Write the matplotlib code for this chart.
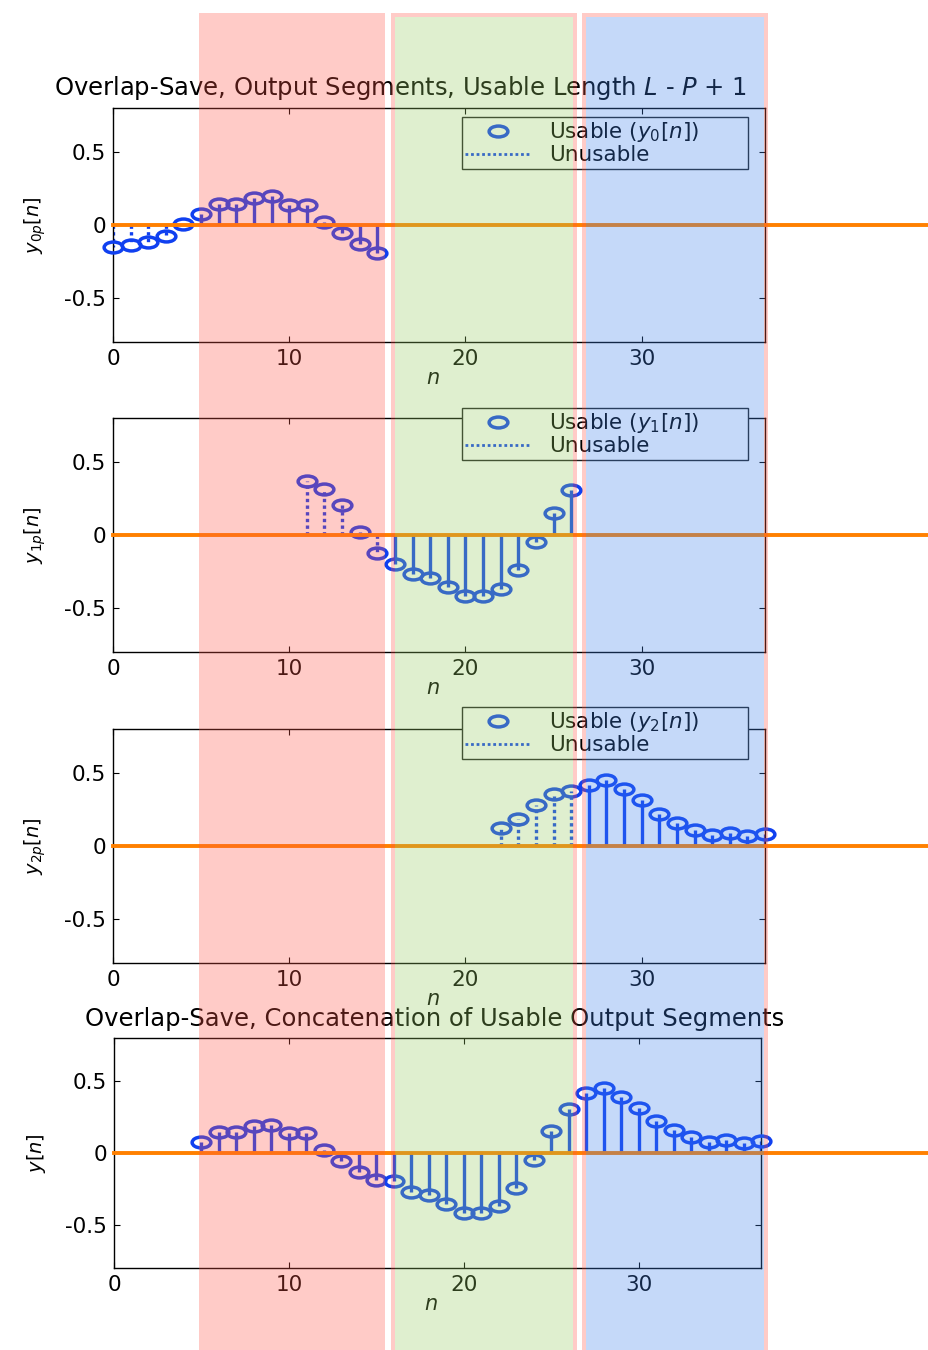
import numpy as np
import matplotlib
matplotlib.use("Agg")
import matplotlib.pyplot as plt
from matplotlib.path import Path
from matplotlib.patches import Rectangle
from matplotlib.lines import Line2D
from matplotlib.transforms import Affine2D

# --- data ------------------------------------------------------------------
n_out = np.arange(5, 38)
y_out = [0.075, 0.145, 0.146, 0.186, 0.197, 0.138, 0.136, 0.018, -0.053, -0.133,
         -0.190, -0.196, -0.270, -0.295, -0.356, -0.418, -0.418, -0.366, -0.240,
         -0.047, 0.150, 0.307, 0.418, 0.450, 0.392, 0.315, 0.221, 0.160, 0.108,
         0.076, 0.088, 0.069, 0.083]

n_bad = [np.arange(0, 5), np.arange(11, 16), np.arange(22, 27)]
y_bad0 = [-0.152, -0.136, -0.118, -0.073, 0.007]
y_bad1 = [0.368, 0.312, 0.205, 0.023, -0.120]
y_bad2 = [0.122, 0.186, 0.281, 0.356, 0.373]
y_bad = [y_bad0, y_bad1, y_bad2]

# usable part of each segment (index ranges into n_out)
seg_slices = [slice(0, 11), slice(11, 22), slice(22, 33)]

xticks = [0, 10, 20, 30]
yticks = [-0.5, 0, 0.5]

W, H = 929, 1350
BLUE = '#1040f0'
ORANGE = '#ff8000'

# ellipse shaped marker (the original is stretched horizontally)
ellipse = Path.unit_circle().transformed(Affine2D().scale(1.0, 0.58))


def px_rect(l, t, r, b):
    return [l / W, 1 - b / H, (r - l) / W, (b - t) / H]


def style_axes(ax):
    ax.set_xlim(0, 37)
    ax.set_ylim(-0.8, 0.8)
    ax.set_xticks(xticks)
    ax.set_yticks(yticks)
    ax.set_xticklabels([str(t) for t in xticks])
    ax.set_yticklabels(['-0.5', '0', '0.5'])
    ax.tick_params(direction='in', length=4, width=0.8, top=True, right=True,
                   labelsize=15.5, pad=5)
    for s in ax.spines.values():
        s.set_linewidth(1.0)
    ax.set_xlabel('$n$', fontsize=15)
    ax.xaxis.set_label_coords(0.49, -0.155)
    ax.xaxis.label.set_va('center')
    ax.axhline(0, xmin=0, xmax=1.3, color=ORANGE, lw=2.8, zorder=4, clip_on=False)


def draw_stems(ax, n, y, ls):
    ax.vlines(n, 0, y, colors=BLUE, linestyles=ls, lw=2.4, zorder=2)
    ax.plot(n, y, ls='none', marker=ellipse, ms=13.5, mfc='none', mec=BLUE,
            mew=2.5, zorder=3, clip_on=False)


fig = plt.figure(figsize=(W / 100, H / 100), dpi=100)

panels = [px_rect(113, 108, 765, 342), px_rect(113, 418, 765, 652),
          px_rect(113, 729, 765, 963), px_rect(114, 1038, 761, 1268)]
legend_tops = [117, 408, 707]

for k in range(3):
    ax = fig.add_axes(panels[k])
    style_axes(ax)
    sl = seg_slices[k]
    draw_stems(ax, n_bad[k], y_bad[k], (0, (1, 1)))
    draw_stems(ax, n_out[sl], y_out[sl], '-')
    ax.set_ylabel('$y_{%dp}[n]$' % k, fontsize=14)
    ax.yaxis.set_label_coords(-0.12, 0.5)
    ax.yaxis.label.set_va('center')

    handles = [Line2D([], [], ls='none', marker=ellipse, ms=13.5, mfc='none',
                      mec=BLUE, mew=2.5),
               Line2D([], [], ls=(0, (1, 1)), color=BLUE, lw=2.0)]
    labels = ['Usable ($y_%d[n]$)' % k, 'Unusable']
    ax.legend(handles, labels, loc='upper left', mode='expand',
              bbox_to_anchor=(462 / W, 1 - legend_tops[k] / H, 286 / W, 0),
              bbox_transform=fig.transFigure, borderaxespad=0, fontsize=15.5,
              fancybox=False, framealpha=1, edgecolor='#202020',
              borderpad=0.15, labelspacing=0.05, handlelength=3.0,
              handletextpad=0.9)
    ax.get_legend().get_frame().set_linewidth(1.0)

ax = fig.add_axes(panels[3])
style_axes(ax)
draw_stems(ax, n_out, y_out, '-')
ax.set_ylabel('$y[n]$', fontsize=14)
ax.yaxis.set_label_coords(-0.12, 0.5)
ax.yaxis.label.set_va('center')

fig.text(401 / W, 1 - 88 / H,
         'Overlap-Save, Output Segments, Usable Length $L$ - $P$ + 1',
         ha='center', va='center', fontsize=17.5)
fig.text(435 / W, 1 - 1019 / H,
         'Overlap-Save, Concatenation of Usable Output Segments',
         ha='center', va='center', fontsize=17.5)

# translucent block overlays drawn on top of everything
alpha = 0.3
red = (1.0, 0.333, 0.28)
green = (0.593, 0.8, 0.387)
blue = (0.253, 0.517, 0.933)
top = 13
fig.add_artist(Rectangle((199 / W, 0), (385 - 199) / W, 1 - top / H,
                         transform=fig.transFigure, facecolor=red, alpha=alpha,
                         lw=0, zorder=10))
for (l, r), col in [((391, 577), green), ((582, 768), blue)]:
    # pink frame
    fig.add_artist(Rectangle(((l + 2) / W, -0.01), (r - l - 4) / W,
                             1 - (top + 2) / H + 0.01, transform=fig.transFigure,
                             facecolor='none', edgecolor=red, alpha=alpha,
                             lw=4 * 0.72, zorder=10))
    fig.add_artist(Rectangle(((l + 4) / W, 0), (r - l - 8) / W,
                             1 - (top + 4) / H, transform=fig.transFigure,
                             facecolor=col, alpha=alpha, lw=0, zorder=10))

fig.savefig('out.png', dpi=100)
